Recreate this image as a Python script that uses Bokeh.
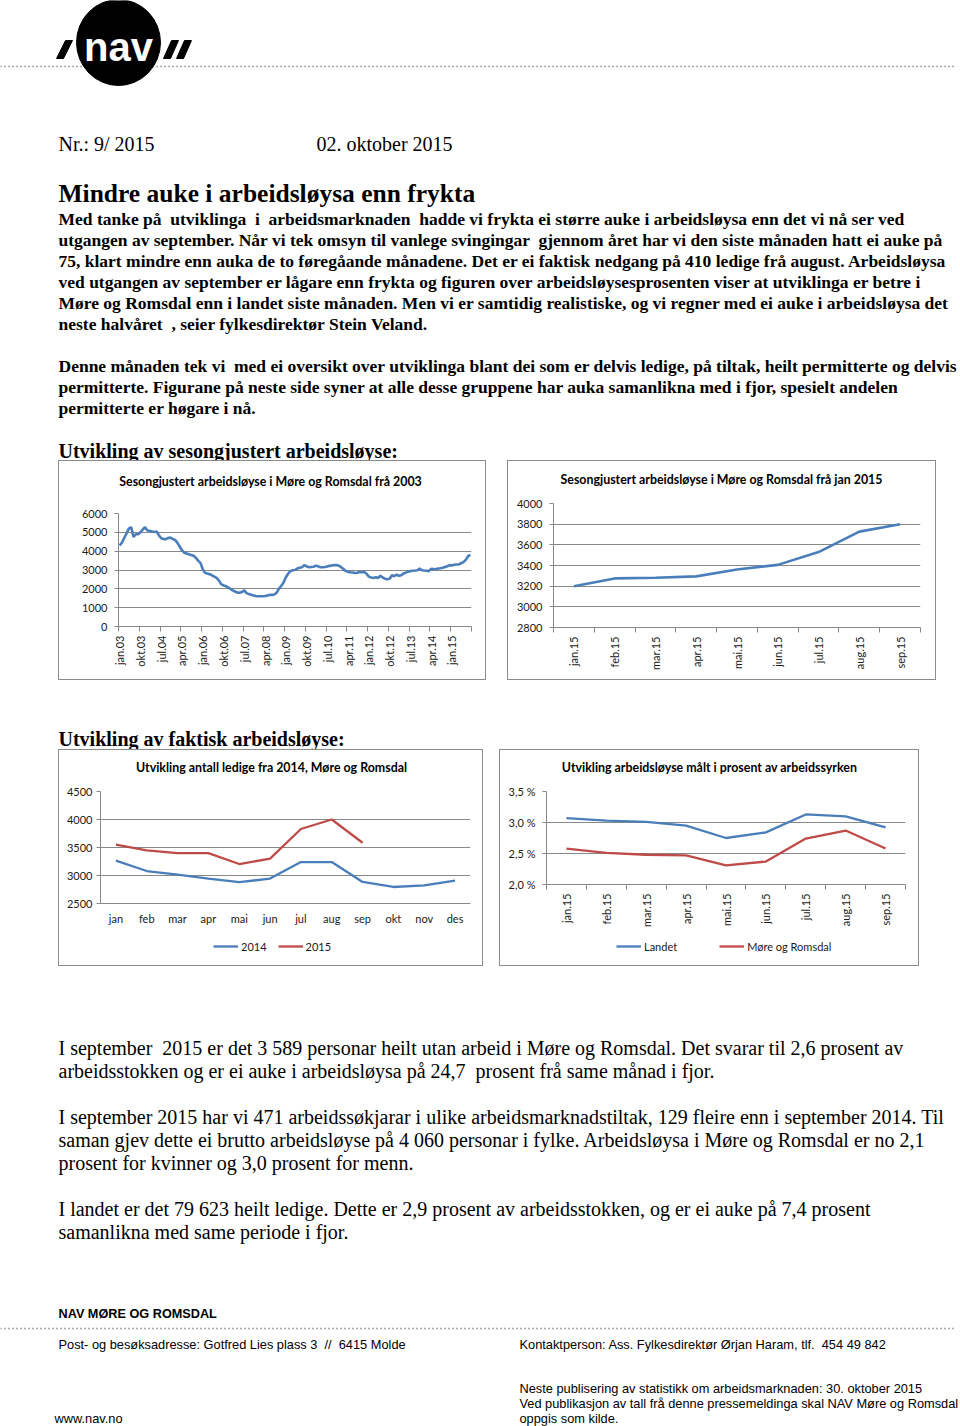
import numpy as np
from bokeh.plotting import figure
from bokeh.layouts import column, row
from bokeh.models import (Range1d, FixedTicker, Spacer, Legend, LegendItem,
                          CustomJSTickFormatter)
from bokeh.core.properties import value
from bokeh.embed import file_html
from bokeh.resources import INLINE

# ---------------- data ----------------
# Chart 1: seasonally adjusted unemployment, Møre og Romsdal, monthly jan.03 .. sep.15
c1_values = [
    4300, 4450, 4700, 4950, 5200, 5270, 4750, 4900, 4900, 5000, 5150, 5270,   # 2003
    5100, 5080, 5050, 5020, 5050, 4850, 4680, 4640, 4640, 4700, 4720, 4650,   # 2004
    4600, 4450, 4250, 4050, 3920, 3880, 3840, 3800, 3760, 3650, 3500, 3380,   # 2005
    3050, 2850, 2820, 2780, 2720, 2650, 2580, 2450, 2250, 2180, 2150, 2080,   # 2006
    2000, 1920, 1860, 1800, 1790, 1830, 1920, 1770, 1720, 1680, 1650, 1620,   # 2007
    1610, 1610, 1610, 1620, 1640, 1680, 1680, 1700, 1790, 2000, 2150, 2330,   # 2008
    2600, 2800, 2940, 2990, 3000, 3080, 3120, 3150, 3260, 3200, 3150, 3160,   # 2009
    3170, 3230, 3200, 3150, 3150, 3160, 3190, 3220, 3240, 3260, 3260, 3230,   # 2010
    3150, 3050, 2950, 2900, 2880, 2870, 2840, 2850, 2900, 2880, 2900, 2800,   # 2011
    2650, 2600, 2580, 2620, 2580, 2690, 2600, 2540, 2510, 2540, 2720, 2670,   # 2012
    2760, 2690, 2720, 2810, 2860, 2900, 2940, 2960, 2970, 2990, 3080, 2990,   # 2013
    2970, 2960, 2940, 3060, 3050, 3040, 3080, 3090, 3120, 3160, 3200, 3260,   # 2014
    3240, 3280, 3290, 3300, 3360, 3420, 3540, 3730, 3800,                     # 2015
]
c1_tick_labels = ["jan.03", "okt.03", "jul.04", "apr.05", "jan.06", "okt.06",
                  "jul.07", "apr.08", "jan.09", "okt.09", "jul.10", "apr.11",
                  "jan.12", "okt.12", "jul.13", "apr.14", "jan.15"]
c1_yticks = [0, 1000, 2000, 3000, 4000, 5000, 6000]

# Chart 2: seasonally adjusted from jan 2015
c2_months = ["jan.15", "feb.15", "mar.15", "apr.15", "mai.15", "jun.15",
             "jul.15", "aug.15", "sep.15"]
c2_values = [3200, 3275, 3282, 3295, 3362, 3406, 3530, 3728, 3800]
c2_yticks = [2800, 3000, 3200, 3400, 3600, 3800, 4000]

# Chart 3: actual number unemployed 2014 / 2015
c3_months = ["jan", "feb", "mar", "apr", "mai", "jun", "jul", "aug", "sep",
             "okt", "nov", "des"]
c3_2014 = [3265, 3080, 3015, 2945, 2880, 2945, 3240, 3240, 2885, 2795, 2825, 2910]
c3_2015 = [3550, 3450, 3400, 3400, 3205, 3300, 3830, 4000, 3585]
c3_yticks = [2500, 3000, 3500, 4000, 4500]

# Chart 4: unemployment in percent of labour force
c4_months = c2_months
c4_landet = [3.07, 3.03, 3.01, 2.95, 2.75, 2.84, 3.13, 3.10, 2.92]
c4_more = [2.58, 2.51, 2.48, 2.47, 2.31, 2.37, 2.74, 2.87, 2.58]
c4_yticks = [2.0, 2.5, 3.0, 3.5]

# ---------------- text ----------------
NB = " \u00a0"   # a double space that survives in SVG text
header_nr = "Nr.: 9/ 2015"
header_date = "02. oktober 2015"
main_title = "Mindre auke i arbeidsløysa enn frykta"
para1 = [
    f"Med tanke på{NB}utviklinga{NB}i{NB}arbeidsmarknaden{NB}hadde vi frykta ei større auke i arbeidsløysa enn det vi nå ser ved",
    f"utgangen av september. Når vi tek omsyn til vanlege svingingar{NB}gjennom året har vi den siste månaden hatt ei auke på",
    "75, klart mindre enn auka de to føregåande månadene. Det er ei faktisk nedgang på 410 ledige frå august. Arbeidsløysa",
    "ved utgangen av september er lågare enn frykta og figuren over arbeidsløysesprosenten viser at utviklinga er betre i",
    "Møre og Romsdal enn i landet siste månaden. Men vi er samtidig realistiske, og vi regner med ei auke i arbeidsløysa det",
    f"neste halvåret{NB}, seier fylkesdirektør Stein Veland.",
]
para2 = [
    f"Denne månaden tek vi{NB}med ei oversikt over utviklinga blant dei som er delvis ledige, på tiltak, heilt permitterte og delvis",
    "permitterte. Figurane på neste side syner at alle desse gruppene har auka samanlikna med i fjor, spesielt andelen",
    "permitterte er høgare i nå.",
]
heading1 = "Utvikling av sesongjustert arbeidsløyse:"
heading2 = "Utvikling av faktisk arbeidsløyse:"
body_a = [
    f"I september{NB}2015 er det 3 589 personar heilt utan arbeid i Møre og Romsdal. Det svarar til 2,6 prosent av",
    f"arbeidsstokken og er ei auke i arbeidsløysa på 24,7{NB}prosent frå same månad i fjor.",
]
body_b = [
    "I september 2015 har vi 471 arbeidssøkjarar i ulike arbeidsmarknadstiltak, 129 fleire enn i september 2014. Til",
    "saman gjev dette ei brutto arbeidsløyse på 4 060 personar i fylke. Arbeidsløysa i Møre og Romsdal er no 2,1",
    "prosent for kvinner og 3,0 prosent for menn.",
]
body_c = [
    "I landet er det 79 623 heilt ledige. Dette er 2,9 prosent av arbeidsstokken, og er ei auke på 7,4 prosent",
    "samanlikna med same periode i fjor.",
]
footer_org = "NAV MØRE OG ROMSDAL"
footer_addr = f"Post- og besøksadresse: Gotfred Lies plass 3{NB}//{NB}6415 Molde"
footer_contact = f"Kontaktperson: Ass. Fylkesdirektør Ørjan Haram, tlf.{NB}454 49 842"
footer_next = [
    "Neste publisering av statistikk om arbeidsmarknaden: 30. oktober 2015",
    "Ved publikasjon av tall frå denne pressemeldinga skal NAV Møre og Romsdal",
    "oppgis som kilde.",
]
footer_web = "www.nav.no"

c1_title = "Sesongjustert arbeidsløyse i Møre og Romsdal frå 2003"
c2_title = "Sesongjustert arbeidsløyse i Møre og Romsdal frå jan 2015"
c3_title = "Utvikling antall ledige fra 2014, Møre og Romsdal"
c4_title = "Utvikling arbeidsløyse målt i prosent av arbeidssyrken"
c3_series = ["2014", "2015"]
c4_series = ["Landet", "Møre og Romsdal"]

# ---------------- styles ----------------
SERIF = "Liberation Serif"
SANS = "Liberation Sans"
CHART_FONT = "Lato"
BLUE = "#4A7EBB"
RED = "#BE4B48"
GRID = "#888888"
PAGE_W = 960
BOX = {"border": "1px solid #8c8c8c"}


def canvas(w, h, x0=0, x1=None):
    p = figure(width=w, height=h, x_range=Range1d(x0, w if x1 is None else x1),
               y_range=Range1d(h, 0),
               x_axis_location=None, y_axis_location=None,
               output_backend="svg", toolbar_location=None, min_border=0)
    p.grid.visible = False
    p.outline_line_color = None
    p.border_fill_color = "white"
    p.background_fill_color = "white"
    return p


def put(p, x, y0, lines, size, font=SERIF, style="normal", dy=21, color="black",
        align="left"):
    if isinstance(lines, str):
        lines = [lines]
    n = len(lines)
    p.text(x=[x] * n, y=[y0 + i * dy for i in range(n)], text=lines,
           text_font=value(font), text_font_size=value(f"{size}px"),
           text_font_style=style, text_baseline="middle", text_align=align,
           text_color=color)


def dotted(p, y, x1=0, x2=956):
    p.line(x=[x1, x2], y=[y, y], line_dash="1 3", line_color="#555555", line_width=1.5)


# ---------------- header ----------------
hdr = canvas(PAGE_W, 460)
dotted(hdr, 66)
hdr.ellipse(x=118, y=42, width=84, height=86, fill_color="black", line_color="black")
hdr.patches(xs=[[56, 63, 72, 65], [163, 170, 178, 171], [176, 183, 191, 184]],
            ys=[[58, 58, 40, 40], [58, 58, 40, 40], [58, 58, 40, 40]],
            fill_color="black", line_color="black")
hdr.text(x=[118], y=[46], text=["nav"], text_font=value("Liberation Sans"),
         text_font_size=value("40px"), text_font_style="bold",
         text_align="center", text_baseline="middle", text_color="white")
put(hdr, 58, 143, header_nr, 20)
put(hdr, 316, 143, header_date, 20)
put(hdr, 58, 193, main_title, 25.5, style="bold")
put(hdr, 58, 218, para1, 17.5, style="bold", dy=21)
put(hdr, 58, 365, para2, 17.5, style="bold", dy=21)
put(hdr, 58, 450, heading1, 20, style="bold")

# ---------------- chart helpers ----------------


def chart(w, h, left, right, top, bottom, ystandoff=7):
    p = figure(width=w, height=h, output_backend="svg", toolbar_location=None,
               min_border_left=left, min_border_right=right,
               min_border_top=top, min_border_bottom=bottom)
    p.outline_line_color = None
    p.xgrid.grid_line_color = None
    p.ygrid.grid_line_color = GRID
    p.ygrid.grid_line_width = 1
    for ax in list(p.xaxis) + list(p.yaxis):
        ax.axis_line_color = GRID
        ax.major_tick_line_color = GRID
        ax.minor_tick_line_color = None
        ax.major_tick_in = 0
        ax.major_tick_out = 4
        ax.major_label_text_font = CHART_FONT
        ax.major_label_text_font_size = "11px"
        ax.major_label_text_color = "#1a1a1a"
        ax.major_label_standoff = 4
    p.yaxis.major_label_standoff = ystandoff
    return p


# The title/legend strips sit in the same column as the chart, so Bokeh aligns
# their frames with the chart frame: their x-range is given in page pixels of
# that frame (frame_l .. frame_r).
def title_canvas(w, h, text, frame_l, frame_r, cx, cy):
    t = canvas(w, h, frame_l, frame_r)
    put(t, cx, cy, text, 12.4, font=CHART_FONT, style="bold", align="center")
    return t


def legend_canvas(w, h, labels, colors, x, y, spacing):
    lc = canvas(w, h)
    items = []
    for lab, col in zip(labels, colors):
        r = lc.line(x=[float("nan")], y=[float("nan")], line_color=col, line_width=2.3)
        items.append(LegendItem(label=lab, renderers=[r]))
    lg = Legend(items=items, location=(x, y), orientation="horizontal",
                border_line_color=None, background_fill_alpha=0,
                label_text_font=CHART_FONT, label_text_font_size="11px",
                label_text_color="#1a1a1a", glyph_width=25, glyph_height=14,
                label_height=14, padding=0, margin=0, label_standoff=3,
                spacing=spacing)
    lc.add_layout(lg)
    return lc


def boundary_ticks(p, n_cats, step=1, labels=None):
    ticks = list(range(0, n_cats, step))
    p.xaxis.ticker = FixedTicker(ticks=ticks,
                                 minor_ticks=[t - 0.5 for t in range(0, n_cats + 1, step)])
    p.xaxis.major_tick_out = 0
    p.xaxis.minor_tick_in = 0
    p.xaxis.minor_tick_out = 5
    p.xaxis.minor_tick_line_color = GRID
    p.xaxis.major_label_overrides = {t: lab for t, lab in zip(ticks, labels)}


# ---------------- chart 1 ----------------
p1 = chart(426, 178, 59, 14, 12, 53)
x1 = list(range(len(c1_values)))
p1.line(x1, c1_values, line_color=BLUE, line_width=2.6)
p1.x_range = Range1d(-0.5, len(c1_values) - 0.5)
p1.y_range = Range1d(c1_yticks[0], c1_yticks[-1])
p1.yaxis.ticker = FixedTicker(ticks=c1_yticks)
boundary_ticks(p1, len(c1_values), 9, c1_tick_labels)
p1.xaxis.major_label_orientation = np.pi / 2
box1 = column(title_canvas(426, 40, c1_title, 118, 471, 270, 20), p1,
              spacing=0, styles=BOX)

# ---------------- chart 2 ----------------
p2 = chart(427, 186, 45, 15, 10, 52)
x2 = list(range(len(c2_months)))
p2.line(x2, c2_values, line_color=BLUE, line_width=2.6)
p2.x_range = Range1d(-0.5, len(c2_months) - 0.5)
p2.y_range = Range1d(c2_yticks[0], c2_yticks[-1])
p2.yaxis.ticker = FixedTicker(ticks=c2_yticks)
boundary_ticks(p2, len(c2_months), 1, c2_months)
p2.xaxis.major_label_orientation = np.pi / 2
box2 = column(title_canvas(427, 32, c2_title, 553, 920, 721, 18), p2,
              spacing=0, styles=BOX)

# ---------------- chart 3 ----------------
p3 = chart(423, 150, 41, 12, 11, 27, ystandoff=4)
p3.line(list(range(len(c3_2014))), c3_2014, line_color=BLUE, line_width=2.3)
p3.line(list(range(len(c3_2015))), c3_2015, line_color=RED, line_width=2.3)
p3.x_range = Range1d(-0.5, len(c3_months) - 0.5)
p3.y_range = Range1d(c3_yticks[0], c3_yticks[-1])
p3.yaxis.ticker = FixedTicker(ticks=c3_yticks)
p3.xaxis.ticker = FixedTicker(ticks=list(range(len(c3_months))))
p3.xaxis.major_label_overrides = {i: m for i, m in enumerate(c3_months)}
p3.xaxis.major_tick_out = 0
p3.xaxis.major_label_standoff = 8
box3 = column(title_canvas(423, 30, c3_title, 100, 470, 271, 17), p3,
              legend_canvas(423, 35, c3_series, [BLUE, RED], 113, 12, 11),
              spacing=0, styles=BOX)

# ---------------- chart 4 ----------------
p4 = chart(418, 152, 46, 13, 11, 48)
p4.line(list(range(len(c4_landet))), c4_landet, line_color=BLUE, line_width=2.3)
p4.line(list(range(len(c4_more))), c4_more, line_color=RED, line_width=2.3)
p4.x_range = Range1d(-0.5, len(c4_months) - 0.5)
p4.y_range = Range1d(c4_yticks[0], c4_yticks[-1])
p4.yaxis.ticker = FixedTicker(ticks=c4_yticks)
p4.yaxis.formatter = CustomJSTickFormatter(
    code="return tick.toFixed(1).replace('.', ',') + ' %';")
boundary_ticks(p4, len(c4_months), 1, c4_months)
p4.xaxis.major_label_orientation = np.pi / 2
box4 = column(title_canvas(418, 30, c4_title, 546, 905, 709, 17), p4,
              legend_canvas(418, 33, c4_series, [BLUE, RED], 70, 12, 42),
              spacing=0, styles=BOX)

# ---------------- middle + bottom text ----------------
mid = canvas(PAGE_W, 69)
put(mid, 58, 58, heading2, 20, style="bold")

bot = canvas(PAGE_W, 460)
put(bot, 58, 81, body_a, 20, dy=23)
put(bot, 58, 150, body_b, 20, dy=23)
put(bot, 58, 242, body_c, 20, dy=23)
put(bot, 58, 347, footer_org, 12.7, font=SANS, style="bold")
dotted(bot, 362)
put(bot, 58, 378, footer_addr, 12.8, font=SANS)
put(bot, 519, 378, footer_contact, 12.8, font=SANS)
put(bot, 519, 422, footer_next, 12.8, font=SANS, dy=15)
put(bot, 54, 452, footer_web, 12.8, font=SANS)

# ---------------- layout ----------------
row1 = row(Spacer(width=58, height=220), box1, Spacer(width=21, height=220), box2,
           spacing=0)
row2 = row(Spacer(width=58, height=217), box3, Spacer(width=16, height=217), box4,
           spacing=0)
root = column(hdr, row1, mid, row2, bot, spacing=0)
root.styles = {"position": "absolute", "left": "0px", "top": "0px"}

open("out.html", "w").write(file_html(root, INLINE))
